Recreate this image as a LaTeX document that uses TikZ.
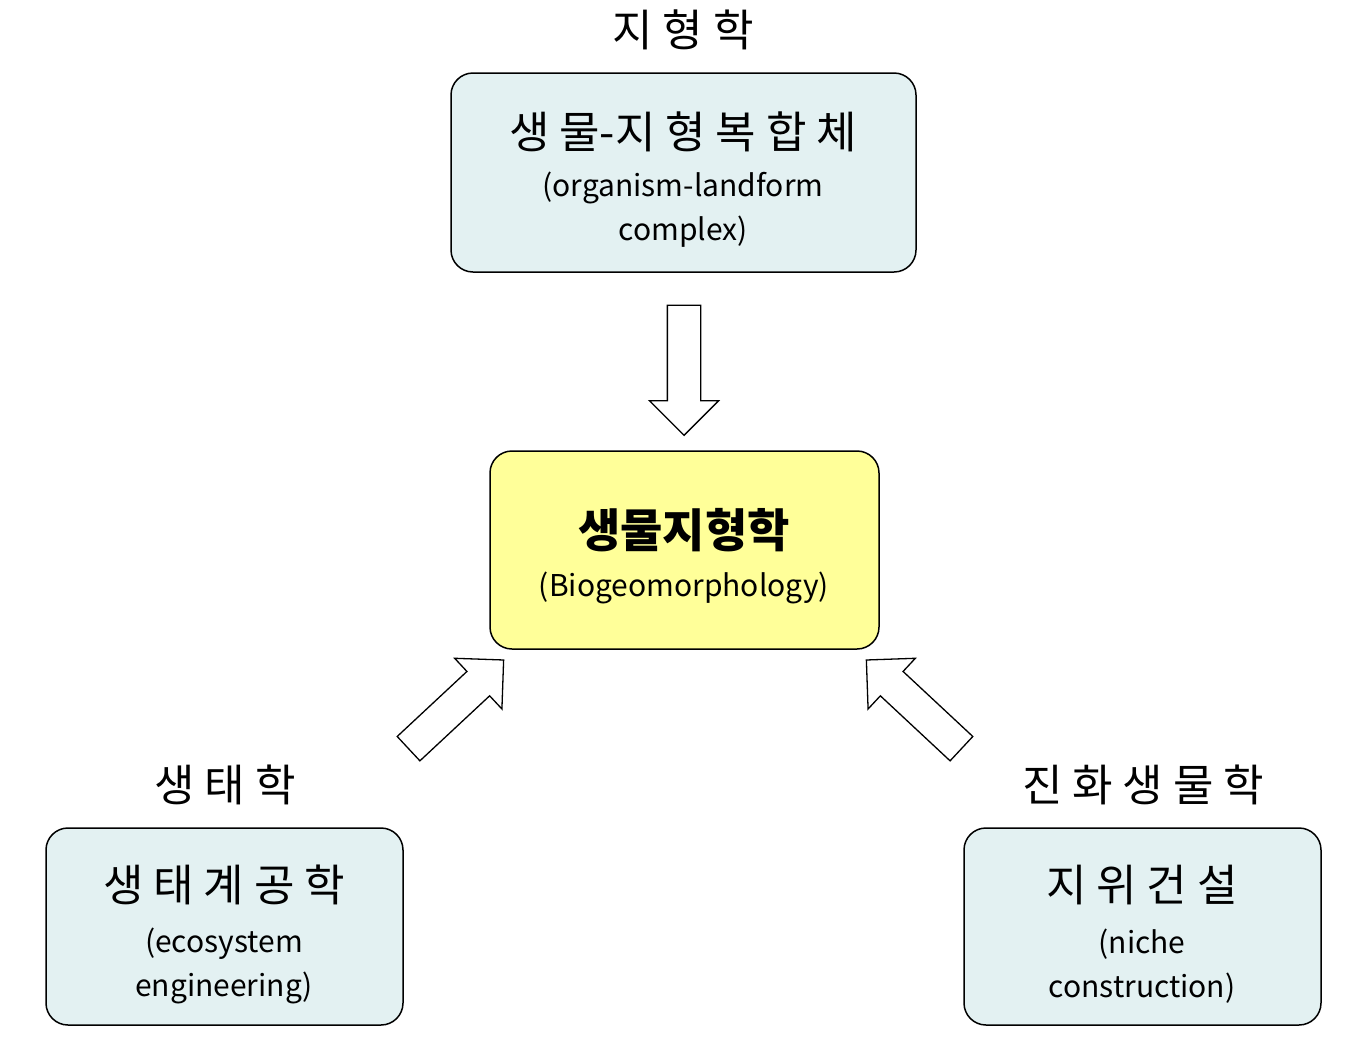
\documentclass[tikz,border=0pt]{standalone}
\usepackage{fontspec}
\setmainfont{Noto Sans CJK KR}
\usetikzlibrary{shapes.arrows}
\definecolor{boxblue}{HTML}{E3F1F2}
\definecolor{boxyel}{HTML}{FFFF99}
\begin{document}
\begin{tikzpicture}[x=1pt,y=-1pt,
 box/.style={draw,line width=1.5pt,rounded corners=22pt,fill=boxblue,align=center,inner sep=0},
 kor/.style={font=\fontsize{44}{50}\selectfont},
 eng/.style={font=\fontsize{30}{44}\selectfont},
 arr/.style={single arrow,draw,line width=1.3pt,fill=white,inner sep=0,minimum width=68pt,single arrow head extend=18pt,single arrow head indent=0pt,minimum height=130pt}]
\useasboundingbox (0,0) rectangle (1353,1042);
\node[box,minimum width=465pt,minimum height=199pt] (top) at (683.5,172.5) {};
\node[kor] (topk) at (683,132) {생 물-지 형 복 합 체};
\node[eng,align=center] (tope) at (683,210) {(organism-landform\\complex)};
\node[box,fill=boxyel,minimum width=389pt,minimum height=198pt] (mid) at (684.5,550) {};
\node[font=\fontsize{46}{50}\selectfont\bfseries] (midk) at (684,530) {생물지형학};
\node[eng] (mide) at (684,588) {(Biogeomorphology)};
\node[box,minimum width=357pt,minimum height=197pt] (left) at (224.5,926.5) {};
\node[kor] (leftk) at (224,885) {생 태 계 공 학};
\node[eng,align=center] (lefte) at (224,966) {(ecosystem\\engineering)};
\node[box,minimum width=357pt,minimum height=197pt] (right) at (1142.5,926.5) {};
\node[kor] (rightk) at (1142,885) {지 위 건 설};
\node[eng,align=center] (righte) at (1142,966) {(niche\\construction)};
\node[kor] (lt) at (683,30) {지 형 학};
\node[kor] (ll) at (225,785) {생 태 학};
\node[kor] (lr) at (1143,785) {진 화 생 물 학};
\node[arr,shape border rotate=270,minimum width=68pt] (a1) at (684,362) {\rule{0pt}{0pt}\rule{32pt}{0pt}};
\node[arr,rotate=43] (a2) at (450,710) {\rule{0pt}{32pt}};
\node[arr,rotate=137] (a3) at (920,710) {\rule{0pt}{32pt}};
\end{tikzpicture}
\end{document}
